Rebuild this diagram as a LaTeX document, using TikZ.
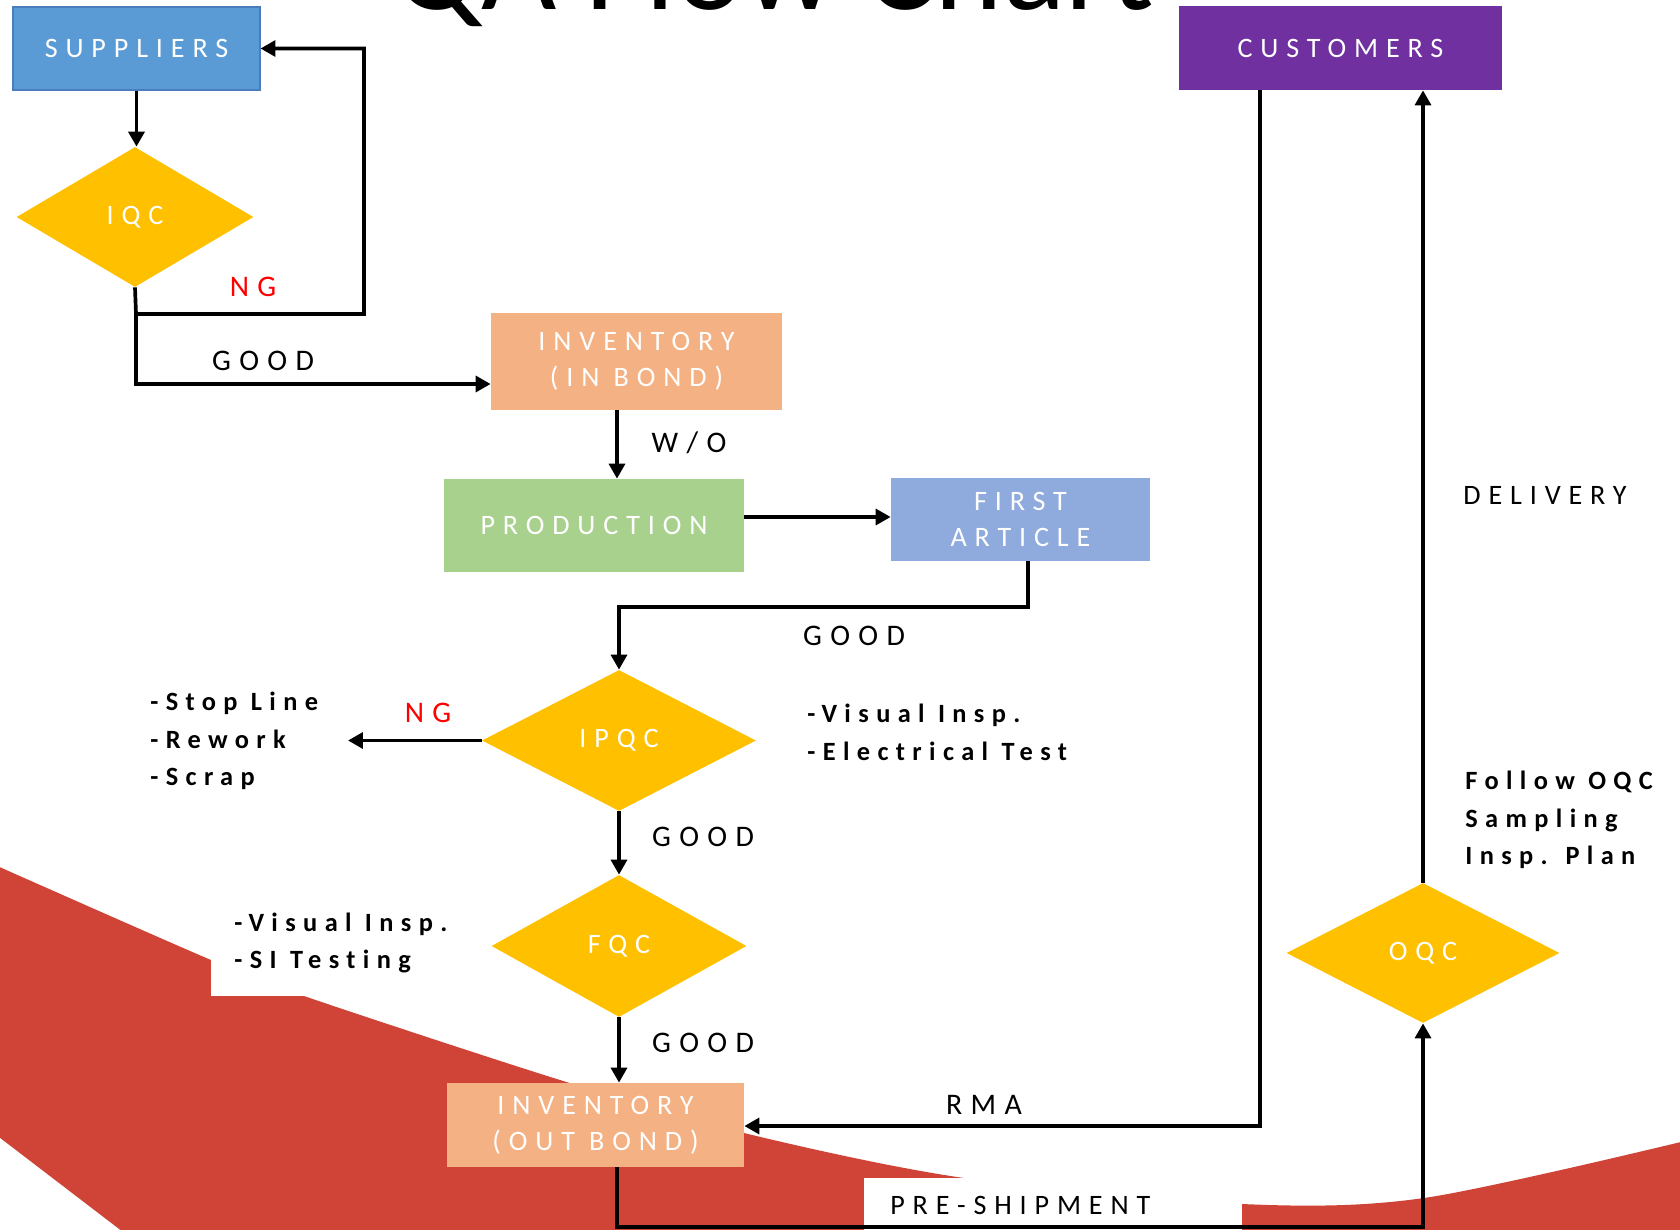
\documentclass[tikz,border=0pt]{standalone}
\usepackage{fontspec}
\setmainfont{Carlito}
\newfontfamily\lsfont[LetterSpace=28,Ligatures={NoCommon}]{Carlito}
\usetikzlibrary{shapes.geometric,arrows.meta}
\newdimen\PX \PX=0.02cm
\definecolor{supblue}{HTML}{5B9BD5}
\definecolor{supedge}{HTML}{4A7EBB}
\definecolor{custpurple}{HTML}{7030A0}
\definecolor{diayellow}{HTML}{FFC000}
\definecolor{invorange}{HTML}{F4B183}
\definecolor{prodgreen}{HTML}{A9D18E}
\definecolor{fablue}{HTML}{8FAADC}
\definecolor{bgred}{HTML}{CF4436}
\definecolor{ngred}{HTML}{FF0000}
\begin{document}
\begin{tikzpicture}[x=0.02cm,y=-0.02cm,
  boxnode/.style={rectangle, inner sep=0pt, text=white, align=center,
    font=\lsfont\fontsize{16}{20.5}\selectfont},
  dia/.style={diamond, fill=diayellow, inner sep=0pt, text=white,
    font=\lsfont\fontsize{16}{20}\selectfont},
  lbl/.style={inner sep=0pt, text=black, font=\lsfont\fontsize{17}{20}\selectfont},
  lbls/.style={inner sep=0pt, text=black, font=\lsfont\fontsize{16}{20}\selectfont},
  desc/.style={inner sep=0pt, anchor=west, align=left, text=black,
    font=\lsfont\bfseries\fontsize{15}{21.5}\selectfont},
  arr/.style={line width=2.1pt, -{Triangle[length=8.5pt,width=9pt]}},
  ln/.style={line width=2.1pt}]
\useasboundingbox (0,0) rectangle (1680,1230);
\clip (0,0) rectangle (1680,1230);
% background swoosh
\fill[bgred] plot[smooth, tension=0.5] coordinates {(-5,865) (211,960) (304,996) (560,1080) (744,1133) (964,1178) (1242,1204) (1424,1198) (1685,1141)} -- (1685,1235) -- (127,1235) -- (-5,1134) -- cycle;
\fill[white] (211,880) rectangle (310,996);
\fill[white] (864,1178) rectangle (1242,1235);
% title
\node[inner sep=0pt, anchor=base, font=\fontsize{74}{80}\selectfont] (title) at (774,10) {QA Flow Chart};
% boxes
\node[boxnode, fill=supblue, draw=supedge, line width=0.6pt, minimum width=247\PX, minimum height=83\PX] (sup) at (136.5,48.5) {SUPPLIERS};
\node[boxnode, fill=custpurple, minimum width=323\PX, minimum height=84\PX] (cust) at (1340.5,48) {CUSTOMERS};
\node[boxnode, fill=invorange, minimum width=291\PX, minimum height=97\PX] (inv1) at (636.5,361.5) {INVENTORY\\(IN BOND)};
\node[boxnode, fill=prodgreen, minimum width=300\PX, minimum height=93\PX] (prod) at (594,525.5) {PRODUCTION};
\node[boxnode, fill=fablue, minimum width=259\PX, minimum height=83\PX] (fa) at (1020.5,519.5) {FIRST\\ARTICLE};
\node[boxnode, fill=invorange, minimum width=297\PX, minimum height=84\PX] (inv2) at (595.5,1125) {INVENTORY\\(OUT BOND)};
% diamonds
\node[dia, minimum width=237\PX, minimum height=140\PX] (iqc) at (135,217) {IQC};
\node[dia, minimum width=274\PX, minimum height=141\PX] (ipqc) at (619,740.5) {IPQC};
\node[dia, minimum width=255\PX, minimum height=142\PX] (fqc) at (619,946) {FQC};
\node[dia, minimum width=273\PX, minimum height=140\PX] (oqc) at (1423,953) {OQC};
% helper coordinates
\coordinate (ngturn) at (136,314);
\coordinate (ngright) at (364,314);
\coordinate (goodturn) at (136,384);
\coordinate (colx) at (617,0);
\coordinate (pfy) at (0,517);
\coordinate (faturn) at (1028,607);
\coordinate (ngend) at (348,740.5);
\coordinate (rmac) at (1260,1126);
\coordinate (psturn) at (617,1227);
% connectors
\draw[arr] (sup.south) -- (sup.south |- iqc.north);
\draw[arr] (iqc.south) -- (ngturn) -- (ngright) |- (sup.east);
\draw[arr] (ngturn) -- (goodturn) -- (inv1.west |- goodturn);
\draw[arr] (colx |- inv1.south) -- (colx |- prod.north);
\draw[arr] (prod.east |- pfy) -- (fa.west |- pfy);
\draw[arr] (fa.south -| faturn) -- (faturn) -| (ipqc.north);
\draw[arr] (ipqc.west) -- (ngend);
\draw[arr] (ipqc.south) -- (fqc.north);
\draw[arr] (fqc.south) -- (fqc.south |- inv2.north);
\draw[arr] (cust.south -| rmac) -- (rmac) -- (inv2.east |- rmac);
\draw[arr] (inv2.south -| psturn) -- (psturn) -| (oqc.south);
\draw[arr] (oqc.north) -- (oqc.north |- cust.south);
% labels
\node[lbl, text=ngred] (l1) at (253,287) {NG};
\node[lbl] (l2) at (263,361) {GOOD};
\node[lbl] (l3) at (689,443) {W/O};
\node[lbl] (l4) at (854,636) {GOOD};
\node[lbl, text=ngred] (l5) at (428,713) {NG};
\node[lbl] (l6) at (703,837) {GOOD};
\node[lbl] (l7) at (703,1043) {GOOD};
\node[lbl] (l8) at (984,1105) {RMA};
\node[lbls, anchor=west] (l9) at (890,1205) {PRE-SHIPMENT};
\node[lbls, anchor=west] (l10) at (1463,495) {DELIVERY};
\node[desc] (d1) at (150,741) {-Stop Line\\-Rework\\-Scrap};
\node[desc] (d2) at (807,732) {-Visual Insp.\\-Electrical Test};
\node[desc] (d3) at (234,943) {-Visual Insp.\\-SI Testing};
\node[desc] (d4) at (1465,820) {Follow OQC\\Sampling\\Insp. Plan};
\end{tikzpicture}
\end{document}
